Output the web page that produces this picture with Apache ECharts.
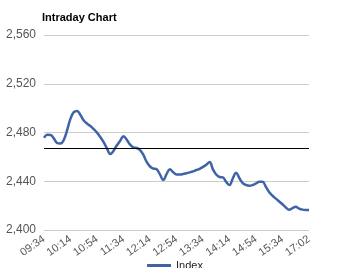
<!DOCTYPE html>
<html>
<head>
<meta charset="utf-8">
<script src="https://cdn.jsdelivr.net/npm/echarts@6/dist/echarts.min.js"></script>
<style>html,body{margin:0;padding:0;background:#fff}#c{width:350px;height:268px}</style>
</head>
<body>
<div id="c"></div>
<script>
// Categories: 5-minute steps 09:34..15:34, then to 17:02
const times = (function(){
  const out = [];
  for (let m = 9*60+34; m <= 15*60+34; m += 5) {
    out.push(String(Math.floor(m/60)).padStart(2,'0') + ':' + String(m%60).padStart(2,'0'));
  }
  return out;
})().concat(['15:45','15:56','16:07','16:18','16:29','16:40','16:51','17:02']);

const indexValues = [
  2475.7, 2478.1, 2478.0, 2475.0, 2471.3, 2471.0, 2474.0, 2482.1, 2491.4, 2496.7,
  2497.6, 2494.3, 2489.9, 2487.3, 2485.3, 2482.8, 2479.9, 2476.3, 2472.2, 2467.0,
  2462.4, 2465.0, 2469.5, 2473.3, 2477.0, 2474.0, 2470.0, 2467.8, 2467.3, 2465.6,
  2461.6, 2455.8, 2452.1, 2450.4, 2449.8, 2445.7, 2441.0, 2445.8, 2449.8, 2447.4,
  2445.5, 2445.5, 2445.9, 2446.6, 2447.3, 2448.1, 2449.2, 2450.2, 2451.8, 2453.6,
  2455.8, 2449.7, 2445.5, 2443.5, 2443.1, 2439.5, 2436.9, 2442.4, 2447.0, 2442.5,
  2438.5, 2436.9, 2436.3, 2436.9, 2438.2, 2439.6, 2439.5, 2435.4, 2430.9, 2428.1,
  2425.7, 2423.4, 2421.1, 2418.5, 2416.6, 2418.0, 2419.0, 2417.6, 2416.7, 2416.4,
  2416.4
];
const previousClose = 2467;
const yTicks = { min: 2400, max: 2560, interval: 40 };

const chart = echarts.init(document.getElementById('c'));
chart.setOption({
  animation: false,
  textStyle: { fontFamily: 'Liberation Sans, Arial, sans-serif' },
  title: {
    text: 'Intraday Chart', left: 37, top: 7,
    textStyle: { fontSize: 11, fontWeight: 'bold', color: '#000', fontFamily: 'Liberation Sans, Arial, sans-serif' }
  },
  legend: {
    bottom: -8, left: 'center',
    itemWidth: 24, itemHeight: 3,
    data: [{ name: 'Index', icon: 'rect' }],
    textStyle: { fontSize: 11, color: '#222' }
  },
  grid: { left: 44, right: 41, top: 35, bottom: 38 },
  xAxis: {
    type: 'category', data: times, boundaryGap: false,
    axisLine: { show: false }, axisTick: { show: false },
    axisLabel: { interval: 7, rotate: 35, fontSize: 11, color: '#555', margin: 8, showMaxLabel: true }
  },
  yAxis: {
    type: 'value', min: yTicks.min, max: yTicks.max, interval: yTicks.interval,
    axisLine: { show: false }, axisTick: { show: false },
    splitLine: { lineStyle: { color: '#cccccc', width: 1 } },
    axisLabel: { fontSize: 12, color: '#555', margin: 8,
      formatter: v => v.toLocaleString('en-US') }
  },
  series: [{
    name: 'Index', type: 'line', data: indexValues, smooth: 0.4,
    showSymbol: false, symbol: 'none',
    lineStyle: { color: '#3f64a6', width: 2.5 },
    itemStyle: { color: '#3f64a6' },
    markLine: {
      silent: true, symbol: 'none', label: { show: false },
      lineStyle: { color: '#000', width: 1, type: 'solid' },
      data: [{ yAxis: previousClose }]
    }
  }]
});
</script>
</body>
</html>
